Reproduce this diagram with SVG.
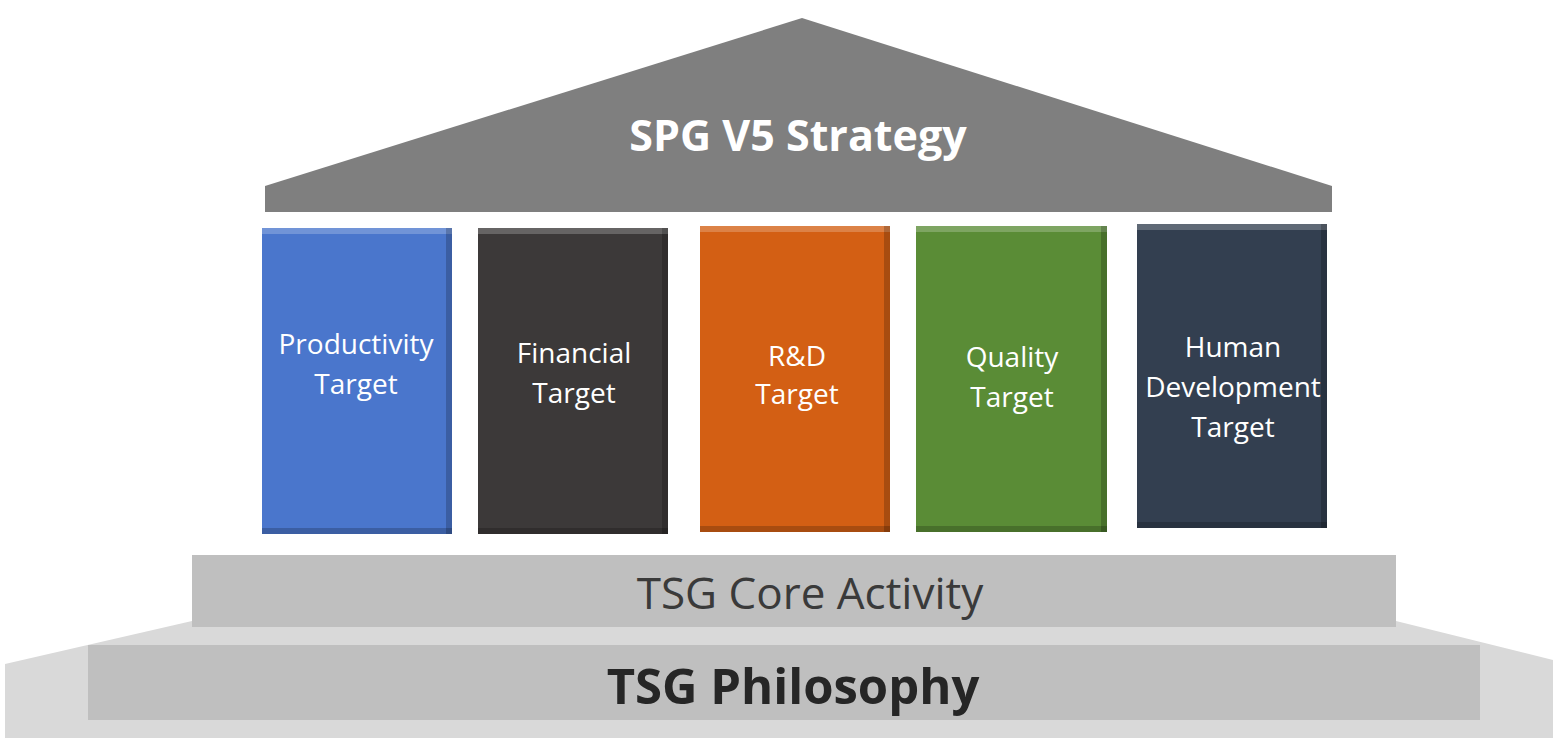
<svg xmlns="http://www.w3.org/2000/svg" width="1558" height="742" viewBox="0 0 1558 742">
<style>
.pt{font-family:"Open Sans","Liberation Sans",sans-serif;font-size:28px;fill:#ffffff;text-anchor:middle}
.hi{fill:#ffffff;opacity:0.22}
.sh{fill:#000000;opacity:0.2}
</style>
<rect x="0" y="0" width="1558" height="742" fill="#ffffff"/>
<g id="base">
<path d="M5,664 L192,621 L1396,621 L1553,660 L1553,738 L5,738 Z" fill="#d9d9d9"/>
<rect x="88" y="645" width="1392" height="75" fill="#bfbfbf"/>
<text x="793" y="704" font-family="Open Sans, Liberation Sans, sans-serif" font-size="49" font-weight="bold" fill="#262626" text-anchor="middle">TSG Philosophy</text>
</g>
<g id="core">
<rect x="192" y="555" width="1204" height="72" fill="#bfbfbf"/>
<text x="810" y="609" font-family="Open Sans, Liberation Sans, sans-serif" font-size="44" fill="#3a3a3a" text-anchor="middle">TSG Core Activity</text>
</g>
<g id="roof">
<path d="M802,18 L1332,186 L1332,212 L265,212 L265,186 Z" fill="#7f7f7f"/>
<text x="798" y="151" font-family="Open Sans, Liberation Sans, sans-serif" font-size="43" font-weight="bold" fill="#ffffff" text-anchor="middle">SPG V5 Strategy</text>
</g>
<g id="productivity">
<rect x="262" y="228" width="190" height="306" fill="#4a76cc"/>
<rect class="hi" x="262" y="228" width="190" height="6"/>
<rect class="sh" x="446" y="228" width="6" height="306"/>
<rect class="sh" x="262" y="528" width="190" height="6"/>
<text class="pt" x="356" y="354">Productivity</text>
<text class="pt" x="356" y="394">Target</text>
</g>
<g id="financial">
<rect x="478" y="228" width="190" height="306" fill="#3c3939"/>
<rect class="hi" x="478" y="228" width="190" height="6"/>
<rect class="sh" x="662" y="228" width="6" height="306"/>
<rect class="sh" x="478" y="528" width="190" height="6"/>
<text class="pt" x="574" y="363">Financial</text>
<text class="pt" x="574" y="403">Target</text>
</g>
<g id="rnd">
<rect x="700" y="226" width="190" height="306" fill="#d35f14"/>
<rect class="hi" x="700" y="226" width="190" height="6"/>
<rect class="sh" x="884" y="226" width="6" height="306"/>
<rect class="sh" x="700" y="526" width="190" height="6"/>
<text class="pt" x="797" y="366">R&amp;D</text>
<text class="pt" x="797" y="404">Target</text>
</g>
<g id="quality">
<rect x="916" y="226" width="191" height="306" fill="#5a8c36"/>
<rect class="hi" x="916" y="226" width="191" height="6"/>
<rect class="sh" x="1101" y="226" width="6" height="306"/>
<rect class="sh" x="916" y="526" width="191" height="6"/>
<text class="pt" x="1012" y="367">Quality</text>
<text class="pt" x="1012" y="407">Target</text>
</g>
<g id="human">
<rect x="1137" y="224" width="190" height="304" fill="#333f50"/>
<rect class="hi" x="1137" y="224" width="190" height="6"/>
<rect class="sh" x="1321" y="224" width="6" height="304"/>
<rect class="sh" x="1137" y="522" width="190" height="6"/>
<text class="pt" x="1233" y="357">Human</text>
<text class="pt" x="1233" y="397">Development</text>
<text class="pt" x="1233" y="437">Target</text>
</g>
<g id="connectors"/>
</svg>
